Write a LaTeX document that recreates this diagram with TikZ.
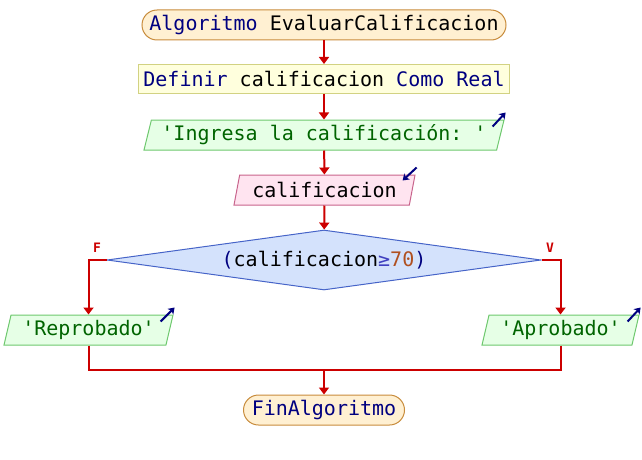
\documentclass[tikz,border=0pt]{standalone}
\usepackage{fontspec}
\setmonofont{DejaVu Sans Mono}
\usetikzlibrary{shapes.geometric,arrows.meta}

\definecolor{flowred}{RGB}{204,0,0}
\definecolor{kwnavy}{RGB}{0,0,128}
\definecolor{strgreen}{RGB}{0,100,0}
\definecolor{numbrown}{RGB}{176,80,32}
\definecolor{opblue}{RGB}{64,64,192}
\definecolor{termfill}{RGB}{255,240,210}
\definecolor{termdraw}{RGB}{200,140,60}
\definecolor{deffill}{RGB}{255,255,221}
\definecolor{defdraw}{RGB}{210,210,130}
\definecolor{outfill}{RGB}{230,255,230}
\definecolor{outdraw}{RGB}{110,200,110}
\definecolor{infill}{RGB}{255,228,240}
\definecolor{indraw}{RGB}{200,100,140}
\definecolor{decfill}{RGB}{212,226,252}
\definecolor{decdraw}{RGB}{70,100,200}

\begin{document}
\begin{tikzpicture}[x=1pt,y=-1pt,
  font=\ttfamily\fontsize{20}{22}\selectfont,
  terminal/.style={rectangle, rounded corners=15pt, draw=termdraw, fill=termfill,
    line width=1pt, minimum height=30pt, inner sep=0pt},
  defbox/.style={rectangle, draw=defdraw, fill=deffill, line width=1pt,
    minimum height=29pt, inner sep=0pt},
  iobox/.style={trapezium, trapezium left angle=70, trapezium right angle=110,
    trapezium stretches body, line width=1pt, minimum height=30pt, inner sep=0pt},
  outbox/.style={iobox, draw=outdraw, fill=outfill},
  inbox/.style={iobox, draw=indraw, fill=infill},
  decision/.style={diamond, aspect=7.2, draw=decdraw, fill=decfill, line width=1pt,
    minimum width=434pt, minimum height=60pt, inner sep=0pt},
  flow/.style={draw=flowred, line width=2pt, -{Triangle[width=10pt,length=7pt]}},
  mergeline/.style={draw=flowred, line width=2pt},
  ioicon/.style={draw=kwnavy, line width=2pt, -{Stealth[length=6pt,width=8pt,inset=1.5pt]}},
  branch/.style={text=flowred, font=\ttfamily\bfseries\fontsize{13}{14}\selectfont}
]
\useasboundingbox (0,0) rectangle (642,460);

\node[terminal, minimum width=364pt] (start) at (324,25)
  {\textcolor{kwnavy}{Algoritmo} EvaluarCalificacion};
\node[defbox, minimum width=371pt] (def) at (324,79)
  {\textcolor{kwnavy}{Definir} calificacion \textcolor{kwnavy}{Como Real}};
\node[outbox, minimum width=360pt] (ask) at (324,135)
  {\textcolor{strgreen}{'Ingresa la calificación: '}};
\node[inbox, minimum width=181pt] (read) at (324.5,190) {calificacion};
\node[decision] (dec) at (324,260)
  {\textcolor{kwnavy}{(}calificacion\textcolor{opblue}{≥}\textcolor{numbrown}{70}\textcolor{kwnavy}{)}};
\node[outbox, minimum width=169pt] (rep) at (88.5,330)
  {\textcolor{strgreen}{'Reprobado'}};
\node[outbox, minimum width=157pt] (apr) at (560.5,330)
  {\textcolor{strgreen}{'Aprobado'}};
\node[terminal, minimum width=161pt] (fin) at (324,410)
  {\textcolor{kwnavy}{FinAlgoritmo}};

\node[branch] (flab) at (97,248) {F};
\node[branch] (vlab) at (550,248) {V};

\coordinate (merge) at (324,370);

% main sequence
\draw[flow] (start) -- (def);
\draw[flow] (def) -- (ask);
\draw[flow] (ask) -- (read);
\draw[flow] (read) -- (dec);

% branches
\draw[flow] (dec.west) -| (rep.north);
\draw[flow] (dec.east) -| (apr.north);
\draw[mergeline] (rep.south) |- (merge);
\draw[mergeline] (apr.south) |- (merge);
\draw[flow] (merge) -- (fin);

% input / output markers
\draw[ioicon] ([shift={(-12,7)}]ask.top right corner) -- ([shift={(1,-7)}]ask.top right corner);
\draw[ioicon] ([shift={(1,-7)}]read.top right corner) -- ([shift={(-13,6)}]read.top right corner);
\draw[ioicon] ([shift={(-13,7)}]rep.top right corner) -- ([shift={(1,-7)}]rep.top right corner);
\draw[ioicon] ([shift={(-12,7)}]apr.top right corner) -- ([shift={(1,-7)}]apr.top right corner);
\end{tikzpicture}
\end{document}
